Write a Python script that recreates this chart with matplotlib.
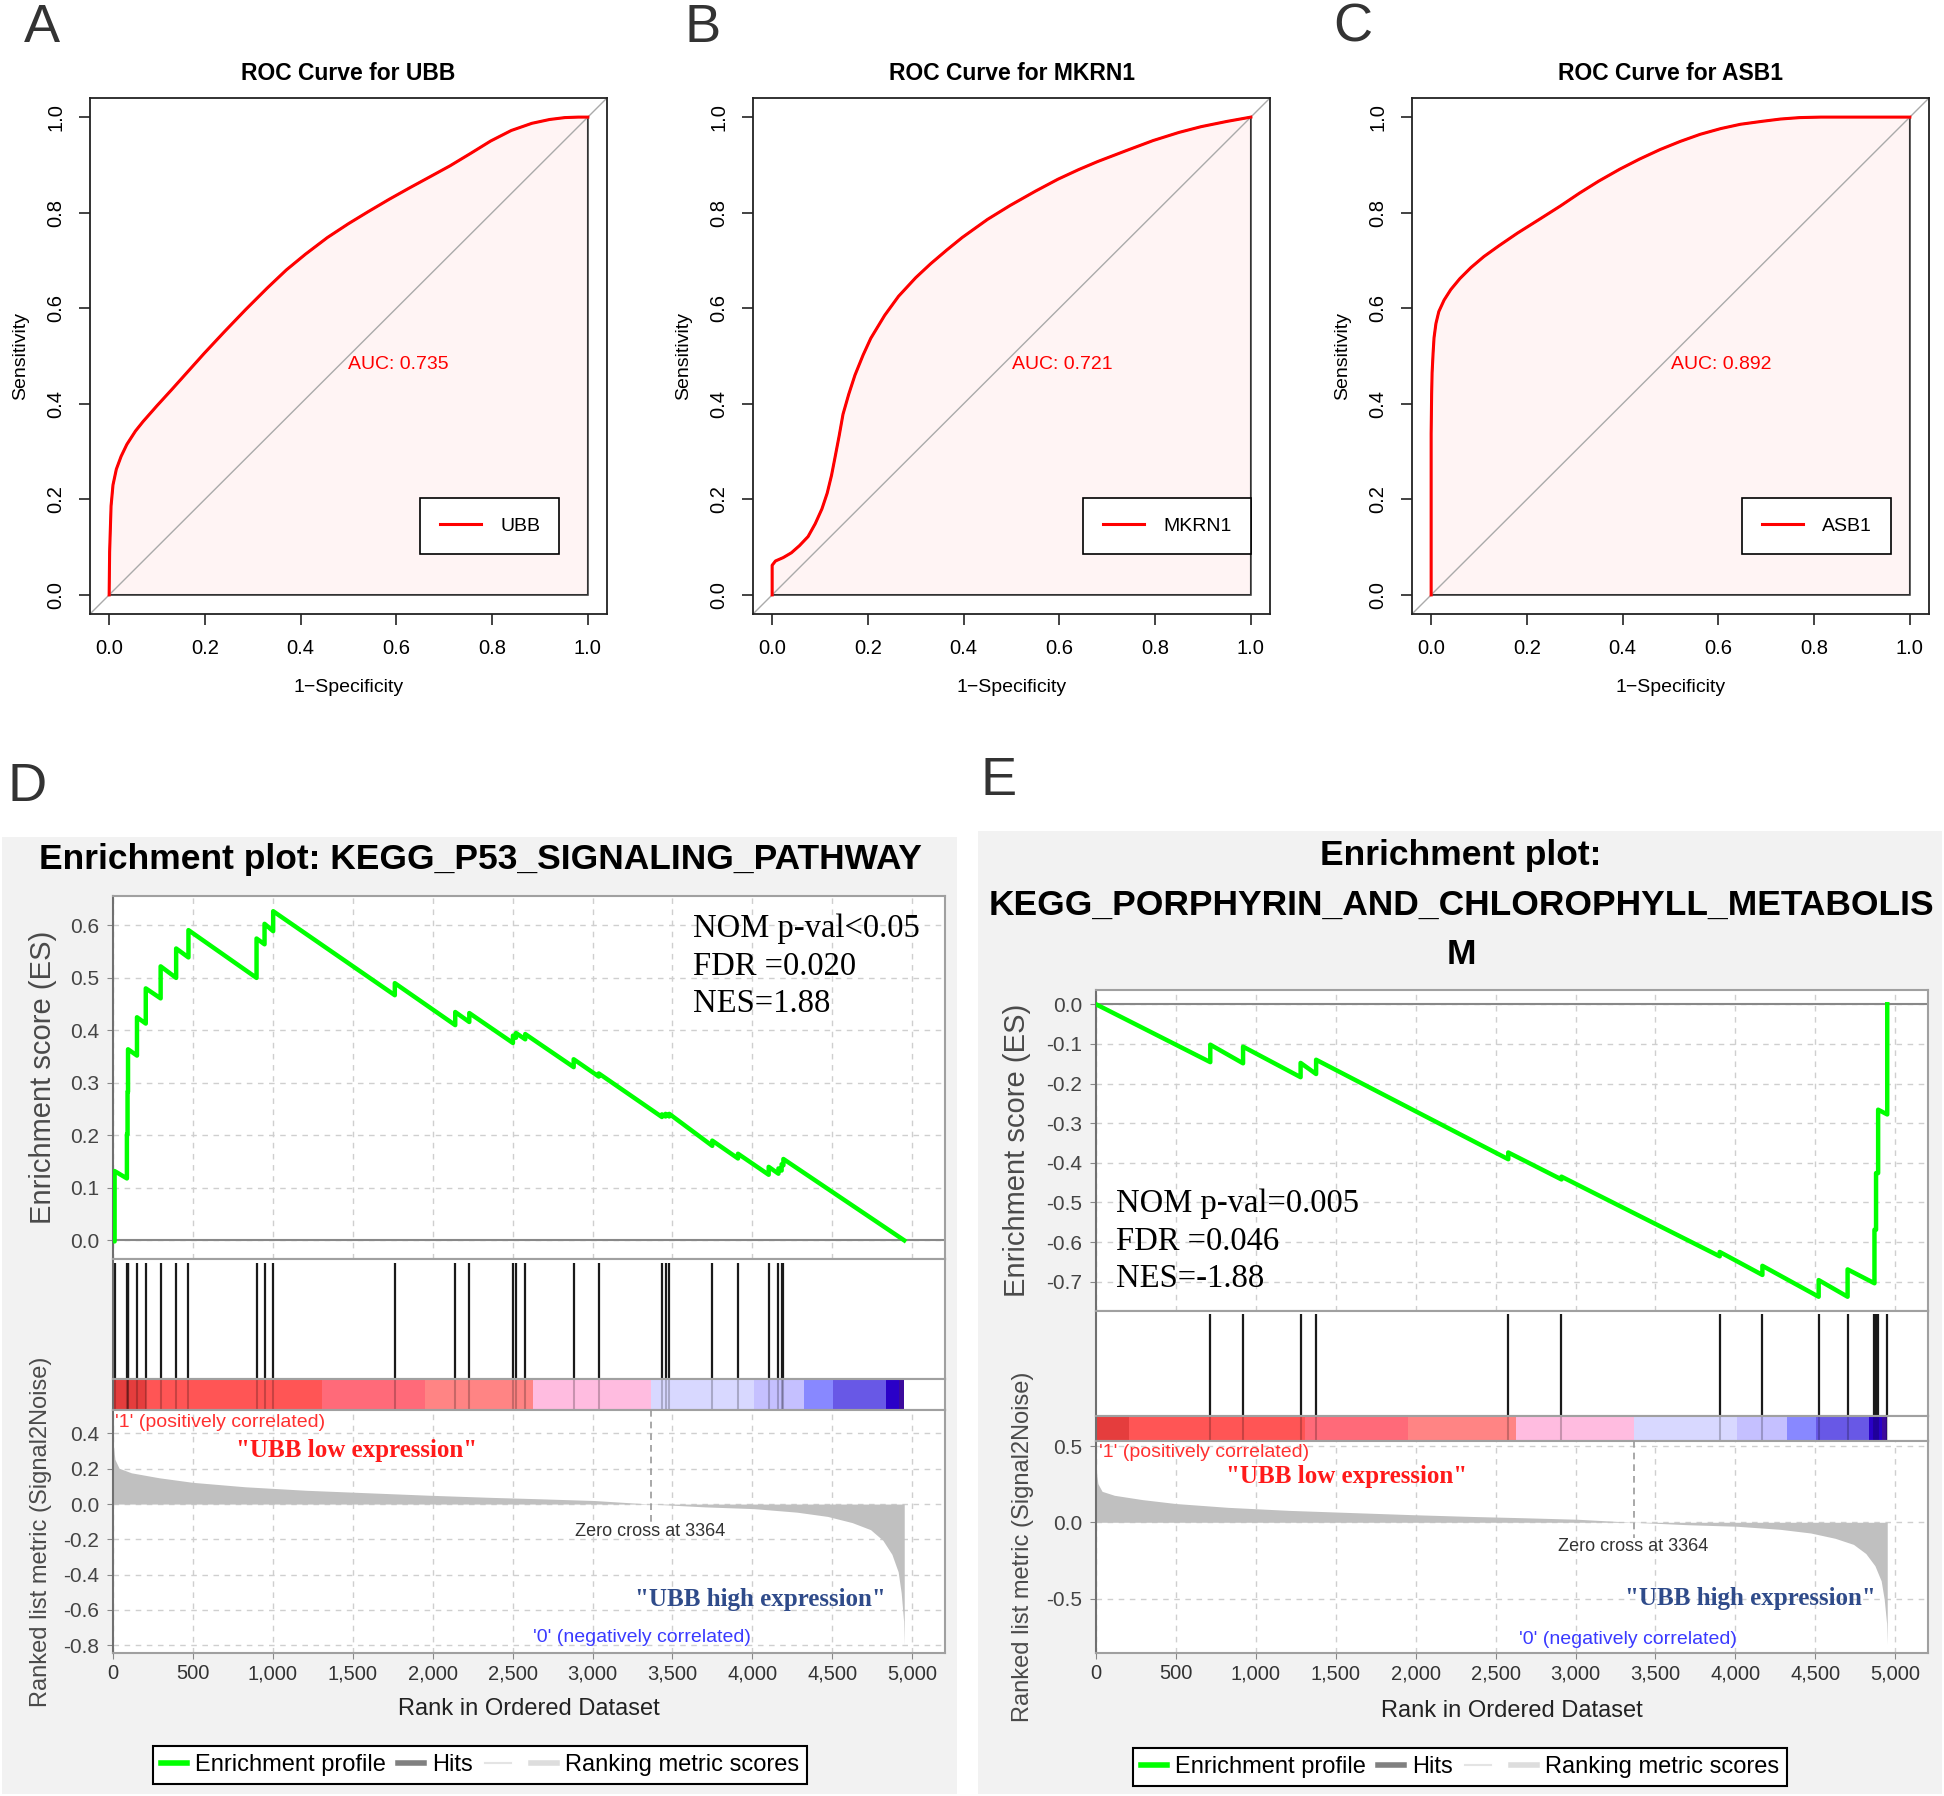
import matplotlib
matplotlib.use('Agg')
import matplotlib.pyplot as plt
from matplotlib.lines import Line2D
from matplotlib.patches import Rectangle, Polygon

plt.rcParams['font.family'] = ['Liberation Sans', 'DejaVu Sans']
plt.rcParams['axes.unicode_minus'] = False

W, H = 1944, 1796

# ---------------- ROC curves ----------------
roc_genes = ['UBB', 'MKRN1', 'ASB1']
roc_auc = ['0.735', '0.721', '0.892']

fpr_ubb = [0, 0.001, 0.004, 0.008, 0.015, 0.025, 0.037, 0.055, 0.071, 0.1, 0.131, 0.165, 0.199,
           0.24, 0.285, 0.33, 0.37, 0.41, 0.456, 0.5, 0.541, 0.585, 0.626, 0.67, 0.712, 0.755,
           0.797, 0.84, 0.883, 0.92, 0.952, 0.98, 1.0]
tpr_ubb = [0, 0.09, 0.186, 0.23, 0.263, 0.29, 0.315, 0.343, 0.363, 0.396, 0.43, 0.468, 0.506,
           0.55, 0.597, 0.642, 0.68, 0.713, 0.748, 0.777, 0.802, 0.828, 0.851, 0.875, 0.898, 0.924,
           0.95, 0.972, 0.987, 0.995, 0.999, 1.0, 1.0]

fpr_mkrn1 = [0, 0, 0.007, 0.023, 0.04, 0.057, 0.075, 0.09, 0.104, 0.115, 0.124, 0.131, 0.14,
             0.148, 0.16, 0.173, 0.19, 0.206, 0.235, 0.264, 0.3, 0.331, 0.365, 0.397, 0.45,
             0.497, 0.55, 0.597, 0.64, 0.68, 0.74, 0.796, 0.85, 0.896, 0.95, 1.0]
tpr_mkrn1 = [0, 0.062, 0.071, 0.078, 0.088, 0.103, 0.122, 0.149, 0.18, 0.213, 0.25, 0.286, 0.333,
             0.378, 0.42, 0.46, 0.502, 0.537, 0.585, 0.625, 0.664, 0.693, 0.722, 0.748, 0.786,
             0.815, 0.845, 0.87, 0.89, 0.907, 0.93, 0.951, 0.968, 0.98, 0.991, 1.0]

fpr_asb1 = [0, 0, 0.001, 0.002, 0.004, 0.006, 0.01, 0.016, 0.027, 0.041, 0.06, 0.083, 0.11,
            0.142, 0.18, 0.226, 0.27, 0.31, 0.35, 0.394, 0.435, 0.478, 0.52, 0.562, 0.605,
            0.646, 0.69, 0.73, 0.77, 0.814, 1.0]
tpr_asb1 = [0, 0.337, 0.42, 0.465, 0.505, 0.538, 0.568, 0.593, 0.617, 0.639, 0.662, 0.685, 0.708,
            0.731, 0.757, 0.786, 0.814, 0.841, 0.866, 0.891, 0.912, 0.932, 0.949, 0.964, 0.976,
            0.985, 0.991, 0.996, 0.999, 1.0, 1.0]

roc_fpr = [fpr_ubb, fpr_mkrn1, fpr_asb1]
roc_tpr = [tpr_ubb, tpr_mkrn1, tpr_asb1]
roc_ticks = [0.0, 0.2, 0.4, 0.6, 0.8, 1.0]
roc_ticklabels = ['0.0', '0.2', '0.4', '0.6', '0.8', '1.0']

# ---------------- GSEA data ----------------
gsea_xticks = [0, 500, 1000, 1500, 2000, 2500, 3000, 3500, 4000, 4500, 5000]
gsea_xticklabels = ['0', '500', '1,000', '1,500', '2,000', '2,500', '3,000', '3,500',
                    '4,000', '4,500', '5,000']
n_genes = 4950
zero_cross = 3364

hits_p53 = [10, 87, 91, 94, 150, 205, 298, 395, 472, 898, 948, 1002, 1763, 2141, 2229,
            2502, 2521, 2579, 2882, 3039, 3434, 3457, 3480, 3749, 3910, 4102, 4163, 4183, 4194]
es_p53_before = [-0.002, 0.118, 0.202, 0.283, 0.352, 0.413, 0.461, 0.500, 0.539, 0.500, 0.564,
                 0.589, 0.467, 0.410, 0.416, 0.376, 0.386, 0.383, 0.330, 0.312, 0.235, 0.236,
                 0.236, 0.180, 0.156, 0.125, 0.127, 0.133, 0.143]
es_p53_after = [0.132, 0.202, 0.283, 0.364, 0.425, 0.480, 0.522, 0.556, 0.591, 0.575, 0.603,
                0.627, 0.490, 0.435, 0.433, 0.390, 0.395, 0.393, 0.345, 0.318, 0.240, 0.241,
                0.241, 0.190, 0.165, 0.140, 0.137, 0.145, 0.155]

hits_porph = [715, 920, 1280, 1377, 2579, 2912, 3902, 4169, 4521, 4702, 4870, 4880, 4893, 4950]
es_porph_before = [-0.146, -0.149, -0.184, -0.176, -0.391, -0.442, -0.636, -0.683, -0.738,
                   -0.738, -0.704, -0.569, -0.426, -0.278]
es_porph_after = [-0.102, -0.107, -0.148, -0.140, -0.374, -0.435, -0.625, -0.660, -0.696,
                  -0.669, -0.569, -0.426, -0.266, 0.0]

metric_rank = [0, 12, 38, 115, 288, 499, 825, 1209, 1592, 1976, 2360, 2667, 3012, 3364, 3703,
               4010, 4279, 4470, 4624, 4739, 4816, 4873, 4912, 4931, 4946, 4950]
metric_value = [0.352, 0.253, 0.203, 0.177, 0.149, 0.123, 0.098, 0.078, 0.064, 0.050, 0.038,
                0.030, 0.020, 0.0, -0.016, -0.026, -0.046, -0.070, -0.105, -0.145, -0.205,
                -0.285, -0.384, -0.504, -0.663, -0.80]

bar_edges = [0, 205, 1310, 1955, 2625, 3365, 4010, 4325, 4505, 4835, 4920, 4950]
bar_colors = ['#e53d3d', '#ff5555', '#ff6a79', '#ff8484', '#ffbce0', '#d8d8ff', '#c5c0ff',
              '#8888ff', '#6858e6', '#2a00c8', '#3c0a9c']

es_p53_ticks = [0.0, 0.1, 0.2, 0.3, 0.4, 0.5, 0.6]
es_porph_ticks = [0.0, -0.1, -0.2, -0.3, -0.4, -0.5, -0.6, -0.7]
metric_p53_ticks = [0.4, 0.2, 0.0, -0.2, -0.4, -0.6, -0.8]
metric_porph_ticks = [0.5, 0.0, -0.5]

fig = plt.figure(figsize=(W / 100, H / 100), dpi=100)


def add_ax(x0, y0, x1, y1):
    return fig.add_axes([x0 / W, 1 - y1 / H, (x1 - x0) / W, (y1 - y0) / H])


def ftext(x, y, s, **kw):
    fig.text(x / W, 1 - y / H, s, **kw)


# ---------------- ROC panels ----------------
roc_left = [90, 753, 1412]
for i, gene in enumerate(roc_genes):
    x0 = roc_left[i]
    ax = add_ax(x0, 98, x0 + 517, 614)
    fpr, tpr = roc_fpr[i], roc_tpr[i]
    ax.set_xlim(-0.04, 1.04)
    ax.set_ylim(-0.04, 1.04)
    ax.add_patch(Polygon(list(zip(fpr, tpr)) + [(1, 0), (0, 0)], closed=True,
                         facecolor='#fff4f4', edgecolor='#333333', lw=1.3, zorder=1))
    ax.plot([-0.04, 1.04], [-0.04, 1.04], color='#aaaaaa', lw=1, zorder=2)
    ax.plot(fpr, tpr, color='red', lw=2.2, zorder=3)
    ax.text(0.5, 0.5, 'AUC: ' + roc_auc[i], color='red', fontsize=14, ha='left', va='top')
    for s in ax.spines.values():
        s.set_linewidth(1.3)
        s.set_color('#222222')
    ax.set_xticks(roc_ticks)
    ax.set_xticklabels(roc_ticklabels)
    ax.set_yticks(roc_ticks)
    ax.set_yticklabels(roc_ticklabels, rotation=90, va='center')
    ax.tick_params(direction='out', length=8, width=1.2, labelsize=14.5, color='#222222')
    ax.tick_params(axis='x', pad=10)
    ax.tick_params(axis='y', pad=9.5)
    leg = ax.legend([Line2D([], [], color='red', lw=2.2)], [gene], loc='lower left',
                    bbox_to_anchor=(0.65, 0.085), bbox_transform=ax.transData,
                    fancybox=False, edgecolor='black', framealpha=1, borderpad=1.0,
                    handlelength=2.1, handletextpad=1.0, fontsize=14, borderaxespad=0)
    leg.get_frame().set_linewidth(1.2)
    cx = x0 + 517 / 2
    ftext(cx, 74, 'ROC Curve for ' + gene, fontsize=16.5, fontweight='bold', ha='center', va='center')
    ftext(cx, 687, '1\u2212Specificity', fontsize=14, ha='center', va='center')
    ftext(x0 - 69, 356, 'Sensitivity', fontsize=14, rotation=90, ha='center', va='center')

for letter, (lx, ly) in zip('ABC', [(42, 28), (703, 28), (1353, 28)]):
    ftext(lx, ly, letter, fontsize=39, color='#333333', ha='center', va='center')

# ---------------- GSEA panels ----------------
fig.add_artist(Rectangle((2 / W, 1 - 1794 / H), 955 / W, 957 / H, transform=fig.transFigure,
                         facecolor='#f2f2f2', edgecolor='none', zorder=0))
fig.add_artist(Rectangle((978 / W, 1 - 1794 / H), 964 / W, 963 / H, transform=fig.transFigure,
                         facecolor='#f2f2f2', edgecolor='none', zorder=0))

grid_kw = dict(color='#cfcfcf', lw=1, ls=(0, (4, 4)))


def style_box(ax):
    for s in ax.spines.values():
        s.set_color('#a0a0a0')
        s.set_linewidth(1.5)
    ax.spines['left'].set_color('#707070')


def draw_gsea(x0, x1, es_y, hits_y, bar_y, rk_y, hits, es_before, es_after, es_ylim, es_ticks,
              rk_ylim, rk_ticks):
    xlim = (0, 5205)
    # running enrichment score
    ax_es = add_ax(x0, es_y[0], x1, es_y[1])
    xs, ys = [0], [0.0]
    for h, b, a in zip(hits, es_before, es_after):
        xs += [h, h]
        ys += [b, a]
    if xs[-1] < n_genes:
        xs.append(n_genes)
        ys.append(0.0)
    ax_es.axhline(0, color='#888888', lw=1.5, zorder=2)
    ax_es.plot(xs, ys, color='#00ff00', lw=3.2, zorder=3)
    ax_es.set_xlim(*xlim)
    ax_es.set_ylim(*es_ylim)
    ax_es.set_xticks(gsea_xticks)
    ax_es.set_yticks(es_ticks)
    ax_es.set_yticklabels(['%.1f' % abs(t) if t == 0 else '%.1f' % t for t in es_ticks])
    ax_es.tick_params(axis='x', length=0, labelbottom=False)
    ax_es.tick_params(axis='y', length=4, pad=6, labelsize=15, labelcolor='#444444', color='#888888')
    ax_es.grid(True, **grid_kw)
    ax_es.set_axisbelow(True)
    style_box(ax_es)

    # hits
    ax_h = add_ax(x0, hits_y[0], x1, hits_y[1])
    ax_h.vlines(hits, 0, 0.97, color='#1a1a1a', lw=1.6)
    ax_h.set_xlim(*xlim)
    ax_h.set_ylim(0, 1)
    ax_h.set_xticks([])
    ax_h.set_yticks([])
    style_box(ax_h)

    # colour bar of the ranked list
    ax_b = add_ax(x0, bar_y[0], x1, bar_y[1])
    for j, c in enumerate(bar_colors):
        ax_b.axvspan(bar_edges[j], bar_edges[j + 1], color=c, lw=0)
    ax_b.vlines(hits, 0, 1, color='black', alpha=0.22, lw=1.5)
    ax_b.set_xlim(*xlim)
    ax_b.set_ylim(0, 1)
    ax_b.set_xticks([])
    ax_b.set_yticks([])
    style_box(ax_b)

    # ranked list metric
    ax_r = add_ax(x0, rk_y[0], x1, rk_y[1])
    ax_r.fill_between(metric_rank, metric_value, 0, color='#c0c0c0', lw=0, zorder=2)
    ax_r.plot([zero_cross, zero_cross], [rk_ylim[1], -0.1], color='#999999', lw=1.2,
              ls=(0, (4, 3)), zorder=3)
    ax_r.set_xlim(*xlim)
    ax_r.set_ylim(*rk_ylim)
    ax_r.set_xticks(gsea_xticks)
    ax_r.set_xticklabels(gsea_xticklabels)
    ax_r.set_yticks(rk_ticks)
    ax_r.set_yticklabels(['%.1f' % abs(t) if t == 0 else '%.1f' % t for t in rk_ticks])
    ax_r.tick_params(axis='x', length=4, pad=4, labelsize=14.5, labelcolor='#333333', color='#888888')
    ax_r.tick_params(axis='y', length=4, pad=6, labelsize=15, labelcolor='#444444', color='#888888')
    ax_r.grid(True, **grid_kw)
    ax_r.set_axisbelow(True)
    style_box(ax_r)
    return ax_es, ax_r


def gsea_legend(cx, cy):
    handles = [Line2D([], [], color='#00ff00', lw=4), Line2D([], [], color='#808080', lw=4),
               Line2D([], [], color='#e4e4e4', lw=1.5), Line2D([], [], color='#dddddd', lw=4)]
    labels = ['Enrichment profile', 'Hits', '', 'Ranking metric scores']
    leg = fig.legend(handles, labels, loc='center', bbox_to_anchor=(cx / W, 1 - cy / H), ncol=4,
                     fontsize=17, fancybox=False, edgecolor='black', framealpha=1,
                     borderpad=0.35, handlelength=1.1, handletextpad=0.35, columnspacing=0.5)
    leg.get_frame().set_linewidth(1.5)


serif = ['Liberation Serif', 'DejaVu Serif']

# panel D
es_d, rk_d = draw_gsea(113, 945, (896, 1259), (1259, 1379), (1379, 1410), (1410, 1653),
                       hits_p53, es_p53_before, es_p53_after, (-0.0355, 0.656), es_p53_ticks,
                       (-0.844, 0.533), metric_p53_ticks)
for k, s in enumerate(['NOM p-val<0.05', 'FDR =0.020', 'NES=1.88']):
    es_d.text(3630, [0.593, 0.521, 0.451][k], s, family=serif, fontsize=23.5, ha='left', va='center')
rk_d.text(10, 0.46, "'1' (positively correlated)", color='#ff3030', fontsize=14, ha='left', va='center')
rk_d.text(1521, 0.304, '"UBB low expression"', family=serif, fontweight='bold', color='#ff1a1a',
          fontsize=18, ha='center', va='center')
rk_d.text(3358, -0.153, 'Zero cross at 3364', color='#333333', fontsize=13, ha='center', va='center')
rk_d.text(4048, -0.541, '"UBB high expression"', family=serif, fontweight='bold', color='#2f4b8a',
          fontsize=18, ha='center', va='center')
rk_d.text(3310, -0.754, "'0' (negatively correlated)", color='#3a3aff', fontsize=14, ha='center', va='center')
ftext(480, 860, 'Enrichment plot: KEGG_P53_SIGNALING_PATHWAY', fontsize=25.5, fontweight='bold',
      ha='center', va='center')
ftext(43, 1077, 'Enrichment score (ES)', fontsize=21, color='#4a4a4a', rotation=90, ha='center', va='center')
ftext(41, 1532, 'Ranked list metric (Signal2Noise)', fontsize=17, color='#4a4a4a', rotation=90,
      ha='center', va='center')
ftext(529, 1709, 'Rank in Ordered Dataset', fontsize=17, color='#222222', ha='center', va='center')
gsea_legend(480, 1765)

# panel E
es_e, rk_e = draw_gsea(1096, 1928, (990, 1311), (1311, 1416), (1416, 1441), (1441, 1653),
                       hits_porph, es_porph_before, es_porph_after, (-0.774, 0.036), es_porph_ticks,
                       (-0.857, 0.533), metric_porph_ticks)
for k, s in enumerate(['NOM p-val=0.005', 'FDR =0.046', 'NES=-1.88']):
    es_e.text(128, [-0.504, -0.600, -0.693][k], s, family=serif, fontsize=23.5, ha='left', va='center')
rk_e.text(19, 0.46, "'1' (positively correlated)", color='#ff3030', fontsize=14, ha='left', va='center')
rk_e.text(1566, 0.302, '"UBB low expression"', family=serif, fontweight='bold', color='#ff1a1a',
          fontsize=18, ha='center', va='center')
rk_e.text(3360, -0.158, 'Zero cross at 3364', color='#333333', fontsize=13, ha='center', va='center')
rk_e.text(4093, -0.501, '"UBB high expression"', family=serif, fontweight='bold', color='#2f4b8a',
          fontsize=18, ha='center', va='center')
rk_e.text(3325, -0.769, "'0' (negatively correlated)", color='#3a3aff', fontsize=14, ha='center', va='center')
for k, s in enumerate(['Enrichment plot:', 'KEGG_PORPHYRIN_AND_CHLOROPHYLL_METABOLIS', 'M']):
    ftext(1461, [856, 905, 955][k], s, fontsize=25.5, fontweight='bold', ha='center', va='center')
ftext(1017, 1150, 'Enrichment score (ES)', fontsize=21, color='#4a4a4a', rotation=90, ha='center', va='center')
ftext(1023, 1547, 'Ranked list metric (Signal2Noise)', fontsize=17, color='#4a4a4a', rotation=90,
      ha='center', va='center')
ftext(1512, 1711, 'Rank in Ordered Dataset', fontsize=17, color='#222222', ha='center', va='center')
gsea_legend(1460, 1767)

ftext(27, 787, 'D', fontsize=39, color='#333333', ha='center', va='center')
ftext(999, 781, 'E', fontsize=39, color='#333333', ha='center', va='center')

fig.savefig('out.png', dpi=100, facecolor='white')
